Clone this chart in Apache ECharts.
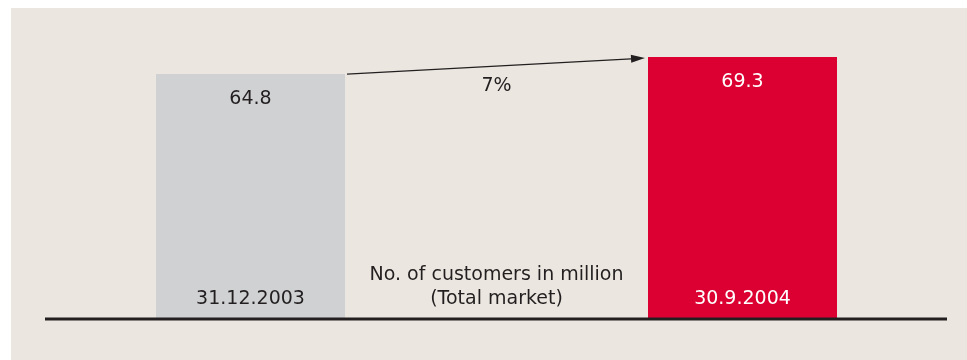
<!DOCTYPE html>
<html>
<head>
<meta charset="utf-8">
<script src="https://cdn.jsdelivr.net/npm/echarts@6/dist/echarts.min.js"></script>
<style>
html,body{margin:0;padding:0;background:#ffffff;width:967px;height:360px;overflow:hidden;}
#chart{position:absolute;left:11px;top:8px;width:956px;height:352px;}
</style>
</head>
<body>
<div id="chart"></div>
<script>
// Data
var categories = ['31.12.2003', 'No. of customers in million\n(Total market)', '30.9.2004'];
var values = [64.8, null, 69.3];
var growthLabel = '7%';

var FONT = '"DejaVu Sans", sans-serif';
var DARK = '#231f20';
var BG = '#ebe7e0';
var GREY = '#d0d1d3';
var RED = '#dc0032';
var BAR_W = 189;

var chart = echarts.init(document.getElementById('chart'));
var option = {
  backgroundColor: BG,
  animation: false,
  grid: { left: 116.5, right: 956 - 116.5 - 738, top: 8.6, bottom: 41, containLabel: false },
  xAxis: {
    type: 'category',
    data: categories,
    axisLine: { show: false },
    axisTick: { show: false },
    axisLabel: {
      inside: true,
      margin: 8,
      interval: 0,
      fontFamily: FONT,
      fontSize: 19,
      lineHeight: 24,
      color: function (v, i) { return i === 2 ? '#ffffff' : DARK; }
    },
    z: 10
  },
  yAxis: {
    type: 'value', min: 0, max: 80,
    show: false,
    splitLine: { show: false }
  },
  series: [{
    type: 'bar',
    barWidth: BAR_W,
    data: values.map(function (v, i) {
      if (v === null) return null;
      return {
        value: v,
        itemStyle: { color: i === 0 ? GREY : RED },
        label: { color: i === 0 ? DARK : '#ffffff' }
      };
    }),
    label: {
      show: true,
      position: 'insideTop',
      distance: 16,
      fontFamily: FONT,
      fontSize: 19,
      formatter: function (p) { return p.value.toFixed(1); }
    }
  }]
};
chart.setOption(option);

function drawExtras() {
  var p0 = chart.convertToPixel({ xAxisIndex: 0, yAxisIndex: 0 }, [0, values[0]]);
  var p2 = chart.convertToPixel({ xAxisIndex: 0, yAxisIndex: 0 }, [2, values[2]]);
  var pm = chart.convertToPixel({ xAxisIndex: 0, yAxisIndex: 0 }, [1, 0]);
  var base = pm[1];
  var x1 = p0[0] + BAR_W / 2 + 2, y1 = p0[1];
  var x2 = p2[0] - BAR_W / 2 - 3, y2 = p2[1] + 1;
  var ang = Math.atan2(y2 - y1, x2 - x1);
  var L = 14, H = 4;
  var bx = x2 - L * Math.cos(ang), by = y2 - L * Math.sin(ang);
  var nx = -Math.sin(ang) * H, ny = Math.cos(ang) * H;
  var midY = (y1 + y2) / 2 + ((pm[0] - (x1 + x2) / 2) / (x2 - x1)) * (y2 - y1);
  chart.setOption({
    graphic: [
      { type: 'line', shape: { x1: 34, y1: base, x2: 936, y2: base }, style: { stroke: DARK, lineWidth: 3 }, z: 100 },
      { type: 'line', shape: { x1: x1, y1: y1, x2: bx, y2: by }, style: { stroke: DARK, lineWidth: 1.3 }, z: 100 },
      { type: 'polygon', shape: { points: [[x2, y2], [bx + nx, by + ny], [bx - nx, by - ny]] }, style: { fill: DARK }, z: 100 },
      { type: 'text', x: pm[0], y: midY + 20, style: { text: growthLabel, fontFamily: FONT, fontSize: 19, fill: DARK, align: 'center', verticalAlign: 'middle' }, z: 100 }
    ]
  });
}
drawExtras();
</script>
</body>
</html>
